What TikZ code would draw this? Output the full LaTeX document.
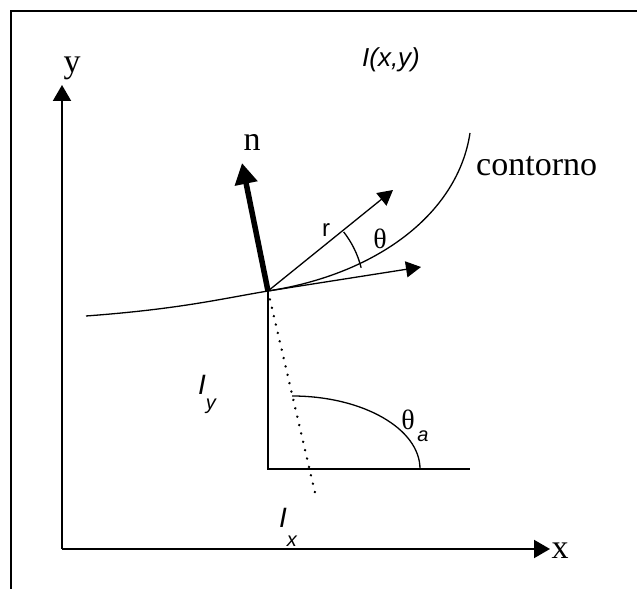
\documentclass[tikz,border=0pt]{standalone}
\usepackage{fontspec}
\setmainfont{Liberation Serif}
\setsansfont{Liberation Sans}
\usetikzlibrary{arrows.meta}
\begin{document}
\begin{tikzpicture}[x=1pt,y=1pt,
  axisline/.style={line width=2pt,-{Triangle[length=16pt,width=18pt]}},
  vecline/.style={line width=1.3pt,-{Triangle[length=15pt,width=16pt]}},
  normalvec/.style={line width=5.5pt,-{Triangle[length=21pt,width=22pt]}},
  thinline/.style={line width=1.3pt},
  dotline/.style={line width=2.6pt,line cap=round,dash pattern=on 0.1pt off 8.5pt},
  serifl/.style={inner sep=0pt,font=\fontsize{34}{40}\selectfont},
  greekl/.style={inner sep=0pt,font=\fontsize{28}{32}\selectfont},
  sansl/.style={inner sep=0pt,font=\fontsize{26}{30}\selectfont\sffamily\itshape}]
\useasboundingbox (0,0) rectangle (637,589);
% frame
\draw[line width=2.5pt] (637,578) -- (11,578) -- (11,0);
% axes
\coordinate (O) at (62,40);
\coordinate (ytip) at (62,504);
\coordinate (xtip) at (550,40);
\draw[axisline] (O) -- (ytip);
\draw[axisline] (O) -- (xtip);
\node[serifl] (ylab) at (72,521) {y};
\node[serifl] (xlab) at (560,38) {x};
\node[sansl] (Ilab) at (391,529) {I(x,y)};
% contour through P
\coordinate (P) at (268,298);
\coordinate (cstart) at (86,273);
\coordinate (cend) at (470,456);
\draw[thinline] (cstart) .. controls (180,280) and (220,290) .. (P)
  .. controls (378,315) and (458,376) .. (cend);
\node[serifl,anchor=west] (contlab) at (476,423) {contorno};
% vectors
\coordinate (ntip) at (242,426);
\coordinate (rtip) at (393,399);
\coordinate (ttip) at (421,322);
\draw[normalvec] (P) -- (ntip);
\draw[vecline] (P) -- (rtip);
\draw[vecline] (P) -- (ttip);
\node[serifl] (nlab) at (252,447) {n};
\node[inner sep=0pt,font=\fontsize{24}{28}\selectfont\sffamily] (rlab) at (326,359) {r};
\draw[thinline] ([shift={(14:96)}]P) arc[start angle=14,end angle=38,radius=96];
\node[greekl] (thlab) at (380,350) {θ};
% components
\coordinate (corner) at (268,120);
\coordinate (hend) at (470,120);
\coordinate (dotend) at (316,92);
\draw[line width=2pt] (P) -- (corner) -- (hend);
\draw[dotline] (P) -- (dotend);
\draw[thinline] (292,193) arc[start angle=90,end angle=0,x radius=128,y radius=73];
\node[greekl] (thalab) at (408,169) {θ};
\node[inner sep=0pt,font=\fontsize{20}{24}\selectfont\sffamily\itshape] (alab) at (423,153) {a};
\node[sansl,anchor=base west,font=\fontsize{28}{32}\selectfont\sffamily\itshape] (Iylab) at (198,194)
  {I\raisebox{-15pt}{\fontsize{20}{24}\selectfont y}};
\node[sansl,anchor=base west,font=\fontsize{28}{32}\selectfont\sffamily\itshape] (Ixlab) at (279,61)
  {I\raisebox{-19pt}{\fontsize{20}{24}\selectfont x}};
\end{tikzpicture}
\end{document}
